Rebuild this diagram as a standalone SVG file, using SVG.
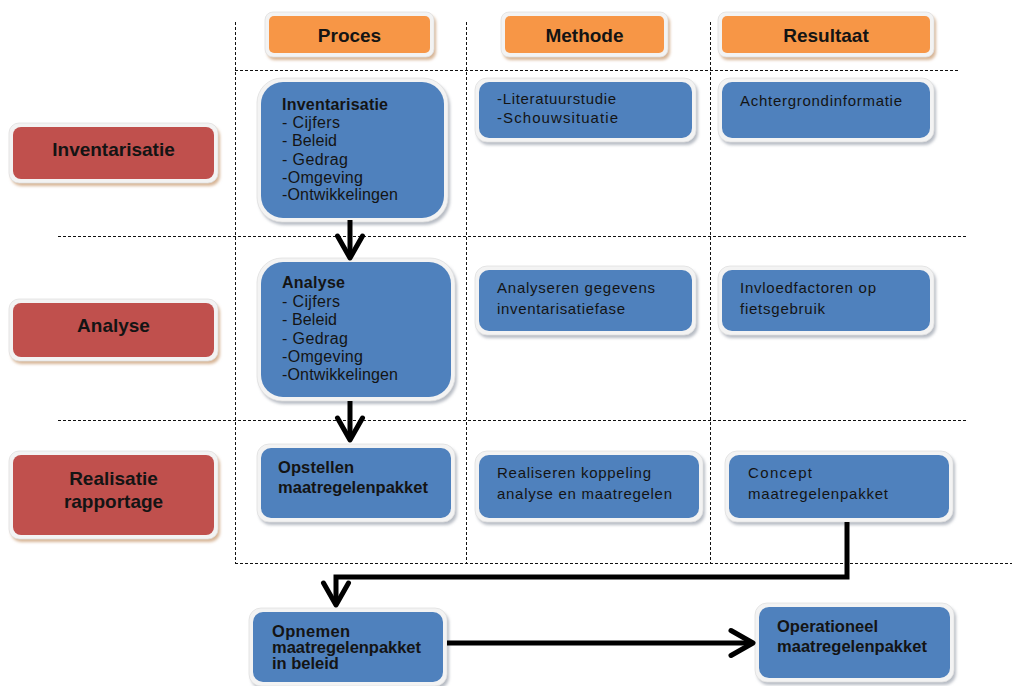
<svg xmlns="http://www.w3.org/2000/svg" width="1015" height="686" viewBox="0 0 1015 686">
<defs>
<filter id="blur" x="-10%" y="-10%" width="120%" height="130%"><feGaussianBlur stdDeviation="1.6"/></filter>
<marker id="chev" markerUnits="userSpaceOnUse" markerWidth="40" markerHeight="40" refX="0" refY="0" orient="auto" overflow="visible" viewBox="-30 -20 40 40">
<path d="M-19,-12.5 L3,0 L-19,12.5" fill="none" stroke="#000" stroke-width="5" stroke-linecap="round" stroke-linejoin="round"/>
</marker>
</defs>
<style>
.shw{fill:#b7bcc4;filter:url(#blur)}
.sht{fill:#d7b596;filter:url(#blur)}
.bd{fill:#f3f3f3;stroke:#e0e0e0;stroke-width:0.8}
.or{fill:#F79646}
.rd{fill:#C0504D}
.bl{fill:#4F81BD}
text{font-family:"Liberation Sans",Arial,sans-serif;fill:#141414}
.hd{font-size:19px;font-weight:bold;text-anchor:middle}
.bt{font-size:16px;font-weight:bold}
.lt{font-size:16px}
.st{font-size:15px}
.ot{font-size:16.5px;font-weight:bold}
.grid line{stroke:#111;stroke-width:1;stroke-dasharray:3,2}
.conn path{fill:none;stroke:#000;stroke-width:5;stroke-linejoin:miter}
</style>
<rect width="1015" height="686" fill="#fff"/>
<g class="grid" id="grid">
<line x1="235.5" y1="22" x2="235.5" y2="563"/>
<line x1="466.5" y1="22" x2="466.5" y2="563"/>
<line x1="710.5" y1="22" x2="710.5" y2="563"/>
<line x1="235" y1="70.5" x2="960" y2="70.5"/>
<line x1="58" y1="236.5" x2="968" y2="236.5"/>
<line x1="58" y1="420.5" x2="968" y2="420.5"/>
<line x1="235" y1="563.5" x2="1012" y2="563.5"/>
</g>
<g id="hdr-proces">
<rect class="sht" x="267" y="15" width="169" height="45" rx="8"/>
<rect class="bd" x="265" y="12" width="169" height="45" rx="8"/>
<rect class="or" x="269" y="16" width="161" height="37" rx="5"/>
<text class="hd" x="349.5" y="42">Proces</text>
</g>
<g id="hdr-methode">
<rect class="sht" x="503" y="15" width="167" height="45" rx="8"/>
<rect class="bd" x="501" y="12" width="167" height="45" rx="8"/>
<rect class="or" x="505" y="16" width="159" height="37" rx="5"/>
<text class="hd" x="584.5" y="42">Methode</text>
</g>
<g id="hdr-resultaat">
<rect class="sht" x="720" y="15" width="216" height="45" rx="8"/>
<rect class="bd" x="718" y="12" width="216" height="45" rx="8"/>
<rect class="or" x="722" y="16" width="208" height="37" rx="5"/>
<text class="hd" x="826" y="42">Resultaat</text>
</g>
<g id="row-inventarisatie">
<rect class="sht" x="11" y="126" width="209" height="60" rx="10"/>
<rect class="bd" x="9" y="123" width="209" height="60" rx="10"/>
<rect class="rd" x="13" y="127" width="201" height="52" rx="8"/>
<text class="hd" x="113.5" y="156">Inventarisatie</text>
</g>
<g id="row-analyse">
<rect class="sht" x="11" y="302" width="209" height="62" rx="10"/>
<rect class="bd" x="9" y="299" width="209" height="62" rx="10"/>
<rect class="rd" x="13" y="303" width="201" height="54" rx="8"/>
<text class="hd" x="113.5" y="332">Analyse</text>
</g>
<g id="row-realisatie">
<rect class="sht" x="11" y="454" width="209" height="88" rx="10"/>
<rect class="bd" x="9" y="451" width="209" height="88" rx="10"/>
<rect class="rd" x="13" y="455" width="201" height="80" rx="8"/>
<text class="hd" x="113.5" y="485">Realisatie</text>
<text class="hd" x="113.5" y="508">rapportage</text>
</g>
<g id="proc-inventarisatie">
<rect class="shw" x="259" y="81" width="191" height="144" rx="25"/>
<rect class="bd" x="257" y="78" width="191" height="144" rx="25"/>
<rect class="bl" x="261" y="82" width="183" height="136" rx="22"/>
<text class="bt" x="282" y="110" textLength="106">Inventarisatie</text>
<text class="lt" x="282" y="128" textLength="58">- Cijfers</text>
<text class="lt" x="282" y="146" textLength="55">- Beleid</text>
<text class="lt" x="282" y="165" textLength="66">- Gedrag</text>
<text class="lt" x="282" y="183" textLength="81">-Omgeving</text>
<text class="lt" x="282" y="200" textLength="116">-Ontwikkelingen</text>
</g>
<g id="proc-analyse">
<rect class="shw" x="259" y="261" width="198" height="143" rx="25"/>
<rect class="bd" x="257" y="258" width="198" height="143" rx="25"/>
<rect class="bl" x="261" y="262" width="190" height="135" rx="22"/>
<text class="bt" x="282" y="288" textLength="63">Analyse</text>
<text class="lt" x="282" y="307" textLength="58">- Cijfers</text>
<text class="lt" x="282" y="325" textLength="55">- Beleid</text>
<text class="lt" x="282" y="344" textLength="66">- Gedrag</text>
<text class="lt" x="282" y="362" textLength="81">-Omgeving</text>
<text class="lt" x="282" y="380" textLength="116">-Ontwikkelingen</text>
</g>
<g id="proc-opstellen">
<rect class="shw" x="259" y="447" width="198" height="78" rx="12"/>
<rect class="bd" x="257" y="444" width="198" height="78" rx="12"/>
<rect class="bl" x="261" y="448" width="190" height="70" rx="10"/>
<text class="ot" x="278" y="473" textLength="76">Opstellen</text>
<text class="ot" x="278" y="493" textLength="150">maatregelenpakket</text>
</g>
<g id="meth-literatuur">
<rect class="shw" x="477" y="81" width="221" height="64" rx="12"/>
<rect class="bd" x="475" y="78" width="221" height="64" rx="12"/>
<rect class="bl" x="479" y="82" width="213" height="56" rx="10"/>
<text class="st" x="497" y="104" textLength="119">-Literatuurstudie</text>
<text class="st" x="497" y="123" textLength="121">-Schouwsituatie</text>
</g>
<g id="res-achtergrond">
<rect class="shw" x="720" y="81" width="216" height="64" rx="12"/>
<rect class="bd" x="718" y="78" width="216" height="64" rx="12"/>
<rect class="bl" x="722" y="82" width="208" height="56" rx="10"/>
<text class="st" x="740" y="106" textLength="162">Achtergrondinformatie</text>
</g>
<g id="meth-analyseren">
<rect class="shw" x="477" y="269" width="221" height="69" rx="12"/>
<rect class="bd" x="475" y="266" width="221" height="69" rx="12"/>
<rect class="bl" x="479" y="270" width="213" height="61" rx="10"/>
<text class="st" x="497" y="293" textLength="158">Analyseren gegevens</text>
<text class="st" x="497" y="314" textLength="128">inventarisatiefase</text>
</g>
<g id="res-invloed">
<rect class="shw" x="720" y="269" width="216" height="69" rx="12"/>
<rect class="bd" x="718" y="266" width="216" height="69" rx="12"/>
<rect class="bl" x="722" y="270" width="208" height="61" rx="10"/>
<text class="st" x="740" y="293" textLength="136">Invloedfactoren op</text>
<text class="st" x="740" y="314" textLength="85">fietsgebruik</text>
</g>
<g id="meth-realiseren">
<rect class="shw" x="477" y="454" width="228" height="71" rx="12"/>
<rect class="bd" x="475" y="451" width="228" height="71" rx="12"/>
<rect class="bl" x="479" y="455" width="220" height="63" rx="10"/>
<text class="st" x="497" y="478" textLength="154">Realiseren koppeling</text>
<text class="st" x="497" y="499" textLength="175">analyse en maatregelen</text>
</g>
<g id="res-concept">
<rect class="shw" x="727" y="454" width="228" height="71" rx="12"/>
<rect class="bd" x="725" y="451" width="228" height="71" rx="12"/>
<rect class="bl" x="729" y="455" width="220" height="63" rx="10"/>
<text class="st" x="748" y="478" textLength="64">Concept</text>
<text class="st" x="748" y="499" textLength="140">maatregelenpakket</text>
</g>
<g id="opnemen">
<rect class="shw" x="251" y="611" width="198" height="78" rx="12"/>
<rect class="bd" x="249" y="608" width="198" height="78" rx="12"/>
<rect class="bl" x="253" y="612" width="190" height="70" rx="10"/>
<text class="ot" x="272" y="637" textLength="78">Opnemen</text>
<text class="ot" x="272" y="653" textLength="149">maatregelenpakket</text>
<text class="ot" x="272" y="669">in beleid</text>
</g>
<g id="operationeel">
<rect class="shw" x="757" y="606" width="199" height="79" rx="12"/>
<rect class="bd" x="755" y="603" width="199" height="79" rx="12"/>
<rect class="bl" x="759" y="607" width="191" height="71" rx="10"/>
<text class="ot" x="777" y="632" textLength="101">Operationeel</text>
<text class="ot" x="777" y="652" textLength="150">maatregelenpakket</text>
</g>
<g class="conn" id="connectors">
<path d="M350,220 L350,255" marker-end="url(#chev)"/>
<path d="M350,401 L350,437" marker-end="url(#chev)"/>
<path d="M847,522 L847,577 L336,577 L336,602" marker-end="url(#chev)"/>
<path d="M447,643 L750,643" marker-end="url(#chev)"/>
</g>
</svg>
